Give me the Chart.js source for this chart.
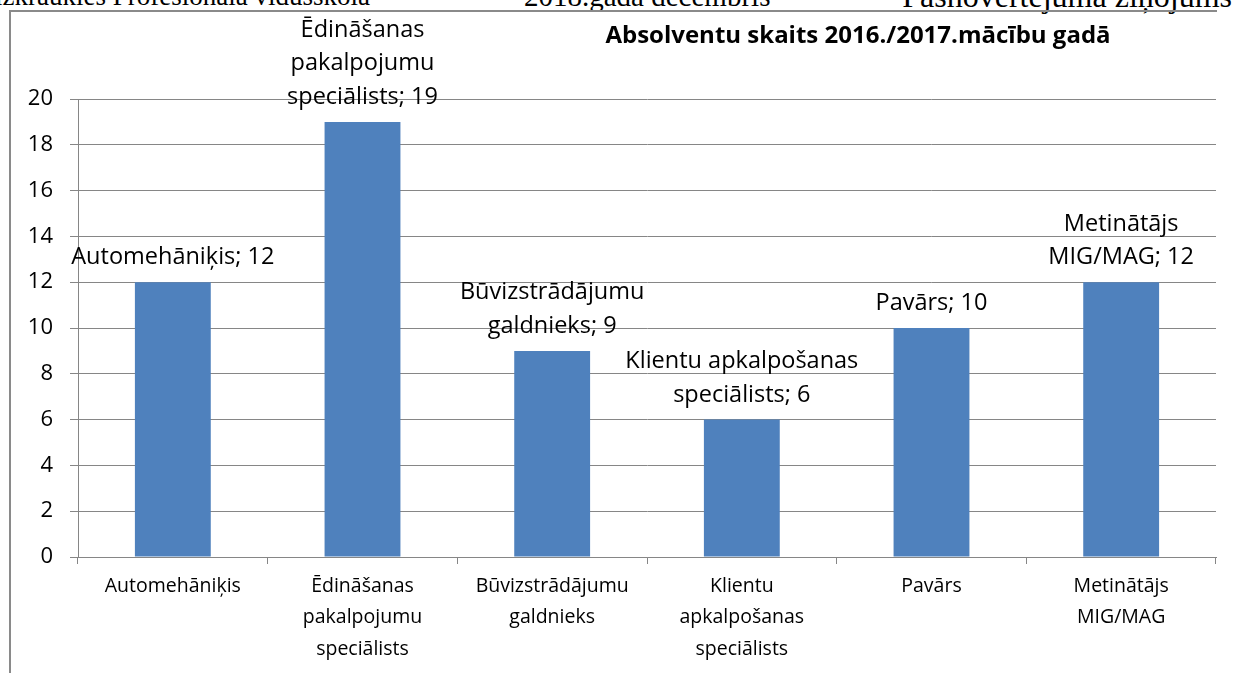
<!DOCTYPE html>
<html>
<head>
<meta charset="utf-8">
<script src="https://cdn.jsdelivr.net/npm/chart.js@4"></script>
<style>
  html, body { margin: 0; padding: 0; background: #fff; }
  body { width: 1236px; height: 673px; position: relative; overflow: hidden; }
  .hdr { position: absolute; top: -19px; font-family: "Liberation Serif", serif; line-height: 30px; white-space: nowrap; color: #000; }
  #frame { position: absolute; left: 9px; top: 10px; width: 1206px; height: 680px;
           border-left: 2px solid #8a8a8a; border-top: 2px solid #8a8a8a; }
  #title { position: absolute; left: 858px; top: 20px; transform: translateX(-50%);
           font: bold 24px "Open Sans", sans-serif; line-height: 28px; white-space: nowrap; color: #000; }
  #wrap { position: absolute; left: 0; top: 0; width: 1236px; height: 673px; }
</style>
</head>
<body>
<div class="hdr" style="right: 866px; font-size: 27px;">Aizkraukles Profesionālā vidusskola</div>
<div class="hdr" style="left: 524px; font-size: 29px;">2018.gada decembris</div>
<div class="hdr" style="right: 4px; font-size: 32px;">Pašnovērtējuma ziņojums</div>
<div id="frame"></div>
<div id="wrap"><canvas id="chart"></canvas></div>
<div id="title">Absolventu skaits 2016./2017.mācību gadā</div>
<script>
// categories as shown under the x axis (one entry per line)
const categories = [
    ['Automehāniķis'],
    ['Ēdināšanas', 'pakalpojumu', 'speciālists'],
    ['Būvizstrādājumu', 'galdnieks'],
    ['Klientu', 'apkalpošanas', 'speciālists'],
    ['Pavārs'],
    ['Metinātājs', 'MIG/MAG']
];

// graduates per programme
const values = [12, 19, 9, 6, 10, 12];

// how the name is wrapped in the label above each bar
const labelLines = [
    ['Automehāniķis'],
    ['Ēdināšanas', 'pakalpojumu', 'speciālists'],
    ['Būvizstrādājumu', 'galdnieks'],
    ['Klientu apkalpošanas', 'speciālists'],
    ['Pavārs'],
    ['Metinātājs', 'MIG/MAG']
];

const yMin = 0;
const yMax = 20;
const yStep = 2;

const FONT = '"Open Sans", sans-serif';
const GRID = '#868686';

// draws "name; value" above every bar
const barLabels = {
    id: 'barLabels',
    afterDatasetsDraw(chart) {
        const ctx = chart.ctx;
        const meta = chart.getDatasetMeta(0);
        ctx.save();
        ctx.font = '23.5px ' + FONT;
        ctx.fillStyle = '#000';
        ctx.textAlign = 'center';
        ctx.textBaseline = 'alphabetic';
        meta.data.forEach((bar, i) => {
            const lines = labelLines[i].slice();
            lines[lines.length - 1] += '; ' + values[i];
            lines.forEach((t, j) => {
                ctx.fillText(t, bar.x, bar.y - 18 - (lines.length - 1 - j) * 33.5);
            });
        });
        ctx.restore();
    }
};

const ctx = document.getElementById('chart').getContext('2d');
new Chart(ctx, {
    type: 'bar',
    data: {
        labels: categories,
        datasets: [{
            data: values,
            backgroundColor: '#4F81BD',
            borderWidth: 0,
            barPercentage: 0.4,
            categoryPercentage: 1
        }]
    },
    options: {
        responsive: true,
        maintainAspectRatio: false,
        animation: false,
        layout: { padding: { top: 99, right: 20, left: 0, bottom: 0 } },
        plugins: {
            legend: { display: false },
            title: { display: false },
            tooltip: { enabled: false }
        },
        scales: {
            x: {
                grid: { offset: true, drawOnChartArea: false, drawTicks: true, tickLength: 7, color: GRID },
                border: { display: true, color: GRID, width: 1 },
                ticks: {
                    color: '#000',
                    padding: 7,
                    maxRotation: 0,
                    autoSkip: false,
                    font: { family: FONT, size: 19.5, lineHeight: 1.6 }
                },
                afterFit: s => { s.height = 116; }
            },
            y: {
                min: yMin,
                max: yMax,
                grid: { color: GRID, tickLength: 8 },
                border: { display: true, color: GRID, width: 1 },
                ticks: {
                    stepSize: yStep,
                    color: '#000',
                    padding: 17,
                    font: { family: FONT, size: 22 }
                },
                afterFit: s => { s.width = 78; }
            }
        }
    },
    plugins: [barLabels]
});
</script>
</body>
</html>
